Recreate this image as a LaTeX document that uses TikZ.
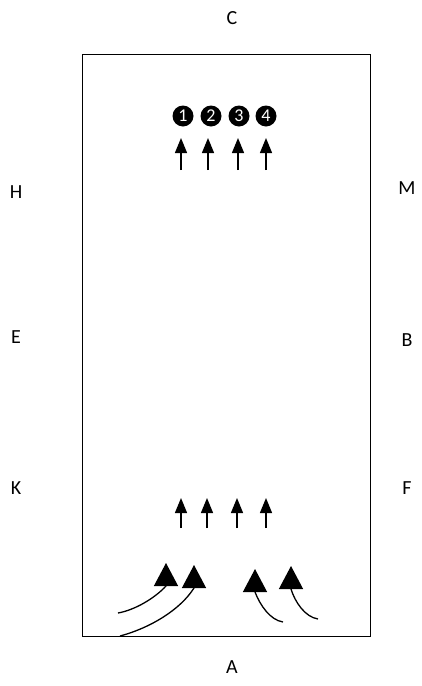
\documentclass[tikz,border=0pt]{standalone}
\usepackage{fontspec}
\setmainfont{Carlito}
\usetikzlibrary{arrows.meta}
\begin{document}
\begin{tikzpicture}[x=1pt,y=-1pt,
  lbl/.style={font=\fontsize{20}{24}\selectfont, inner sep=0pt},
  num/.style={circle, fill=black, text=white, minimum size=21pt, inner sep=0pt, font=\fontsize{18}{20}\selectfont},
  smallarr/.style={line width=1.3pt, -{Triangle[width=12pt,length=15pt]}},
  bigarr/.style={line width=1.3pt, -{Triangle[width=24pt,length=23pt]}}]
\useasboundingbox (0,0) rectangle (422,686);
\draw[line width=1pt] (82,54) rectangle (370,636);
\node[lbl] (C) at (232,18) {C};
\node[lbl] (H) at (16,192) {H};
\node[lbl] (M) at (407,188) {M};
\node[lbl] (E) at (16,337) {E};
\node[lbl] (B) at (407,340) {B};
\node[lbl] (K) at (16,488) {K};
\node[lbl] (F) at (407,488) {F};
\node[lbl] (A) at (232,667) {A};
\node[num] (n1) at (183,116) {1};
\node[num] (n2) at (211,116) {2};
\node[num] (n3) at (239,116) {3};
\node[num] (n4) at (266,116) {4};
% top arrows
\foreach \i/\x in {1/181,2/208,3/238,4/266}{
  \coordinate (ts\i) at (\x,170);
  \coordinate (te\i) at (\x,138);
  \draw[smallarr] (ts\i) -- (te\i);
}
% lower arrows
\foreach \i/\x in {1/181,2/207,3/237,4/266}{
  \coordinate (bs\i) at (\x,528);
  \coordinate (be\i) at (\x,498);
  \draw[smallarr] (bs\i) -- (be\i);
}
% curved arrows (upright heads)
\coordinate (c1s) at (118,613); \coordinate (c1b) at (166,586); \coordinate (c1e) at (166,563);
\coordinate (c2s) at (120,636); \coordinate (c2b) at (194,588); \coordinate (c2e) at (194,565);
\coordinate (c3s) at (283,622); \coordinate (c3b) at (255,592); \coordinate (c3e) at (255,569);
\coordinate (c4s) at (318,619); \coordinate (c4b) at (291,589); \coordinate (c4e) at (291,566);
\draw[bigarr] (c1s) .. controls (135,610) and (155,598) .. (c1b) -- (c1e);
\draw[bigarr] (c2s) .. controls (150,628) and (180,610) .. (c2b) -- (c2e);
\draw[bigarr] (c3s) .. controls (270,620) and (260,605) .. (c3b) -- (c3e);
\draw[bigarr] (c4s) .. controls (305,617) and (295,602) .. (c4b) -- (c4e);
\end{tikzpicture}
\end{document}
